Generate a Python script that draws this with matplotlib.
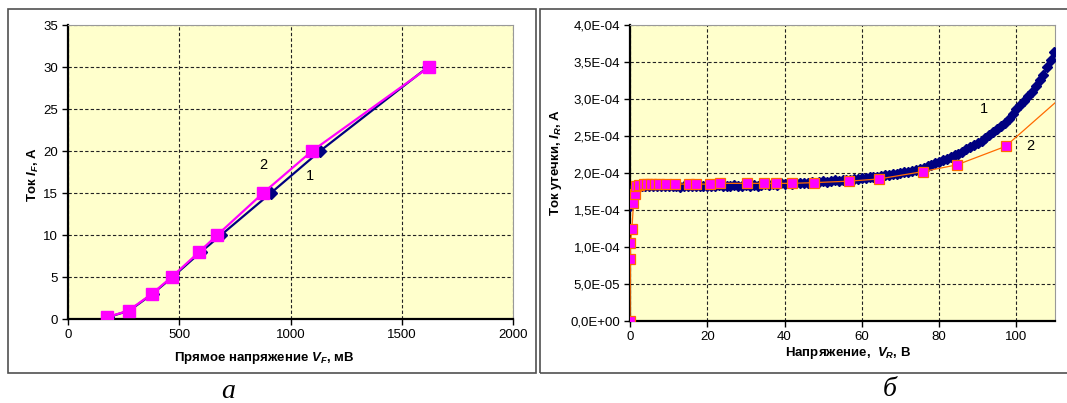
import matplotlib
matplotlib.use("Agg")
import matplotlib.pyplot as plt
from matplotlib.patches import Rectangle

plt.rcParams['font.family'] = ['Liberation Sans', 'DejaVu Sans']
plt.rcParams['mathtext.fontset'] = 'custom'
plt.rcParams['mathtext.rm'] = 'Liberation Sans:bold'
plt.rcParams['mathtext.it'] = 'Liberation Sans:italic:bold'
plt.rcParams['mathtext.bf'] = 'Liberation Sans:bold'

# ---------- panel a: forward characteristic ----------
vf1 = [178, 276, 380, 470, 598, 688, 912, 1133, 1618]
if1 = [0.2, 1, 3, 5, 8, 10, 15, 20, 30]
vf2 = [175, 272, 377, 466, 590, 671, 877, 1097, 1623]
if2 = [0.2, 1, 3, 5, 8, 10, 15, 20, 30]
a_xticks = [0, 500, 1000, 1500, 2000]
a_yticks = [0, 5, 10, 15, 20, 25, 30, 35]

# ---------- panel b: leakage current ----------
vr1 = [0, 0.2, 0.5, 1] + list(range(2, 110)) + [109.8]
ir1_e4 = [1.55, 1.75, 1.78, 1.80,
          1.82, 1.83, 1.82, 1.83, 1.82, 1.83, 1.82, 1.83, 1.82, 1.83,   # 2-11
          1.82, 1.81, 1.83, 1.82, 1.83, 1.82, 1.83, 1.82, 1.83, 1.83,   # 12-21
          1.82, 1.84, 1.83, 1.82, 1.83, 1.84, 1.83, 1.82, 1.84, 1.83,   # 22-31
          1.84, 1.83, 1.84, 1.85, 1.84, 1.85, 1.84, 1.86, 1.85, 1.86,   # 32-41
          1.85, 1.86, 1.87, 1.86, 1.87, 1.88, 1.87, 1.88, 1.89, 1.88,   # 42-51
          1.89, 1.90, 1.89, 1.90, 1.91, 1.91, 1.92, 1.92,               # 52-59
          1.93, 1.93, 1.94, 1.95, 1.95, 1.96, 1.97, 1.97, 1.98, 1.99,   # 60-69
          2.00, 2.01, 2.02, 2.03, 2.04, 2.06, 2.07, 2.09, 2.11, 2.13,   # 70-79
          2.15, 2.17, 2.19, 2.21, 2.24, 2.26, 2.29, 2.32, 2.35, 2.38,   # 80-89
          2.41, 2.43, 2.47, 2.51, 2.55, 2.59, 2.63, 2.68, 2.73, 2.80,   # 90-99
          2.87, 2.92, 2.97, 3.04, 3.10, 3.17, 3.25, 3.33, 3.43, 3.53,   # 100-109
          3.64]
vr2 = [0, 0.1, 0.1, 0.5, 0.9, 1.2, 1.6, 2.4, 3.5, 4.5, 5.4, 6.4, 7.5, 9.2,
       11.7, 15.3, 17.2, 20.7, 23.3, 30.2, 34.7, 37.7, 41.9, 47.7, 56.8,
       64.5, 75.9, 84.6, 97.2, 112]
ir2_e4 = [0.0, 0.84, 1.06, 1.24, 1.59, 1.71, 1.82, 1.84, 1.85, 1.85, 1.85,
          1.85, 1.85, 1.85, 1.85, 1.85, 1.85, 1.85, 1.86, 1.86, 1.86, 1.86,
          1.86, 1.87, 1.89, 1.92, 2.02, 2.11, 2.36, 3.04]
b_xticks = [0, 20, 40, 60, 80, 100]
b_yticks_e4 = [0, 0.5, 1.0, 1.5, 2.0, 2.5, 3.0, 3.5, 4.0]
b_yticklabels = ['0,0E+00', '5,0E-05', '1,0E-04', '1,5E-04', '2,0E-04',
                 '2,5E-04', '3,0E-04', '3,5E-04', '4,0E-04']

NAVY = '#000080'
MAG = '#FF00FF'
ORANGE = '#FF6A00'
BG = '#FFFFCC'

fig = plt.figure(figsize=(10.67, 4.03), dpi=100)

W, H = 1067, 403
def frame(x0, y0, x1, y1):
    fig.patches.append(Rectangle((x0 / W, 1 - y1 / H), (x1 - x0) / W, (y1 - y0) / H,
                                 transform=fig.transFigure, fill=False,
                                 edgecolor='#505050', linewidth=1.2))
frame(8, 9, 536, 373)
frame(540, 9, 1075, 373)


def style(ax):
    ax.set_facecolor(BG)
    ax.grid(True, color='#222222', linestyle=(0, (3, 2)), linewidth=0.8)
    ax.set_axisbelow(True)
    for s in ('top', 'right'):
        ax.spines[s].set_color('#999999')
        ax.spines[s].set_linewidth(0.8)
    for s in ('left', 'bottom'):
        ax.spines[s].set_color('black')
        ax.spines[s].set_linewidth(1.6)
    ax.tick_params(direction='out', length=4, width=1, labelsize=9.5, pad=3)


# panel a
axa = fig.add_axes([68 / W, 1 - 319 / H, 445 / W, 294 / H])
style(axa)
axa.plot(vf1, if1, color=NAVY, lw=1.6, marker='D', ms=6.5, mfc=NAVY, mec=NAVY, zorder=3)
axa.plot(vf2, if2, color=MAG, lw=1.6, marker='s', ms=9, mfc=MAG, mec=MAG, zorder=4)
axa.set_xlim(0, 2000)
axa.set_ylim(0, 35)
axa.set_xticks(a_xticks)
axa.set_yticks(a_yticks)
axa.set_xlabel(r'Прямое напряжение $V_F$, мВ', fontsize=9.5, fontweight='bold')
axa.xaxis.set_label_coords((264 - 68) / 445, -(358 - 319) / 294)
axa.xaxis.label.set_va('center')
axa.set_ylabel(r'Ток $I_F$, А', fontsize=9.5, fontweight='bold')
axa.yaxis.set_label_coords((33 - 68) / 445, (319 - 175) / 294)
axa.yaxis.label.set_va('center')
axa.text(876, 18.3, '2', fontsize=10.5, ha='center', va='center')
axa.text(1087, 17.0, '1', fontsize=10.5, ha='center', va='center')

# panel b
axb = fig.add_axes([630 / W, 1 - 321 / H, 425 / W, 296 / H])
style(axb)
axb.plot(vr1, [v * 1e-4 for v in ir1_e4], color=NAVY, lw=1.5, marker='D',
         ms=5.5, mfc=NAVY, mec=NAVY, zorder=3)
axb.plot(vr2, [v * 1e-4 for v in ir2_e4], color=ORANGE, lw=0.9, marker='s',
         ms=6.5, mfc=MAG, mec=ORANGE, mew=0.9, zorder=4)
axb.set_xlim(0, 110)
axb.set_ylim(0, 4e-4)
axb.set_xticks(b_xticks)
axb.set_yticks([v * 1e-4 for v in b_yticks_e4])
axb.set_yticklabels(b_yticklabels)
axb.set_xlabel(r'Напряжение,  $V_R$, В', fontsize=9.5, fontweight='bold')
axb.xaxis.set_label_coords((848 - 630) / 425, -(353 - 321) / 296)
axb.xaxis.label.set_va('center')
axb.set_ylabel(r'Ток утечки, $I_R$, А', fontsize=9.5, fontweight='bold')
axb.yaxis.set_label_coords((556 - 630) / 425, (321 - 163) / 296)
axb.yaxis.label.set_va('center')
axb.text(91.5, 2.87e-4, '1', fontsize=10.5, ha='center', va='center')
axb.text(103.5, 2.37e-4, '2', fontsize=10.5, ha='center', va='center')

# panel captions
fig.text(228 / W, 1 - 392 / H, 'а', fontsize=20, family='Liberation Serif',
         style='italic', ha='center', va='center')
fig.text(890 / W, 1 - 390 / H, 'б', fontsize=20, family='Liberation Serif',
         style='italic', ha='center', va='center')

fig.savefig('out.png', dpi=100)
